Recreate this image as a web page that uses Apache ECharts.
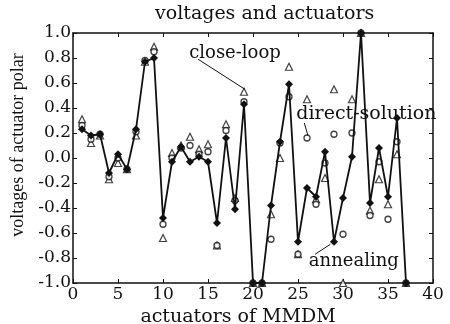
<!DOCTYPE html>
<html>
<head>
<meta charset="utf-8">
<script src="https://cdn.jsdelivr.net/npm/echarts@6/dist/echarts.min.js"></script>
<style>
html,body{margin:0;padding:0;background:#fff;}
#c{width:450px;height:324px;}
</style>
</head>
<body>
<div id="c"></div>
<script>
// actuator indices
const actuators = [1,2,3,4,5,6,7,8,9,10,11,12,13,14,15,16,17,18,19,20,21,22,23,24,25,26,27,28,29,30,31,32,33,34,35,36,37];
// annealing (line with filled diamonds)
const annealing = [0.23,0.18,0.19,-0.12,0.03,-0.09,0.23,0.77,0.80,-0.48,-0.03,0.09,-0.03,0.01,-0.03,-0.52,0.16,-0.41,0.43,-1.0,-1.0,-0.38,0.13,0.59,-0.67,-0.24,-0.31,0.05,-0.67,-0.32,0.01,1.0,-0.36,0.08,-0.31,0.32,-1.0];
// close-loop (open triangles)
const closeLoop = [0.31,0.12,0.18,-0.17,-0.04,-0.09,0.18,0.77,0.89,-0.64,0.04,0.10,0.17,0.07,0.11,-0.70,0.27,-0.32,0.53,-1.0,-1.0,-0.45,0.00,0.73,-0.77,0.47,-0.33,-0.16,0.55,-1.0,0.47,1.0,-0.42,-0.17,-0.37,0.03,-1.0];
// direct-solution (open circles)
const directSolution = [0.26,0.15,0.19,-0.15,0.00,-0.09,0.21,0.78,0.85,-0.53,0.00,0.08,0.10,0.03,0.05,-0.70,0.22,-0.34,0.45,-1.0,-1.0,-0.65,0.12,0.49,-0.77,0.16,-0.37,-0.04,0.19,-0.61,0.20,1.0,-0.46,-0.03,-0.49,0.13,-1.0];
const yTicks = ['-1.0','-0.8','-0.6','-0.4','-0.2','0.0','0.2','0.4','0.6','0.8','1.0'];
const xTicks = ['0','5','10','15','20','25','30','35','40'];
// annotations: [text, textX, textY, lineFromX, lineFromY, lineToX, lineToY]
const annotations = [
  ['close-loop', 18.0, 0.84, 13.9, 0.79, 19.1, 0.55],
  ['direct-solution', 32.6, 0.35, 25.7, 0.28, 26.1, 0.18],
  ['annealing', 31.2, -0.83, 26.9, -0.77, 28.6, -0.69]
];
const annotationFontSize = {'close-loop':18,'direct-solution':19,'annealing':18};

const WIDE = '"DejaVu Serif", "Liberation Serif", serif';
const NARROW = '"Liberation Serif", "DejaVu Serif", serif';
const ink = '#111';
const pair = arr => actuators.map((a,i)=>[a, arr[i]]);

const chart = echarts.init(document.getElementById('c'), null, {renderer:'canvas'});
const axisCommon = {
  type:'value',
  axisLine:{show:true,onZero:false,lineStyle:{color:ink,width:1.5}},
  axisTick:{show:true,inside:true,length:4,lineStyle:{color:ink,width:1}},
  splitLine:{show:false}
};
chart.setOption({
  animation:false,
  backgroundColor:'#fff',
  title:{text:'voltages and actuators',left:150,top:0,
    textStyle:{fontFamily:WIDE,fontSize:19,fontWeight:'normal',color:ink}},
  grid:{left:73,right:17,top:33,bottom:41,containLabel:false,outerBoundsMode:'none'},
  xAxis:[
    Object.assign({},axisCommon,{min:0,max:40,interval:5,position:'bottom',
      name:'actuators of MMDM',nameLocation:'middle',nameGap:20,
      nameTextStyle:{fontFamily:WIDE,fontSize:19,color:ink,padding:[0,30,0,0]},
      axisLabel:{fontFamily:WIDE,fontSize:17,color:ink,margin:3,
        formatter:(v)=>xTicks[Math.round(v/5)]}}),
    Object.assign({},axisCommon,{min:0,max:40,interval:5,position:'top',axisLabel:{show:false}})
  ],
  yAxis:[
    Object.assign({},axisCommon,{min:-1,max:1,interval:0.2,position:'left',
      name:'voltages of actuator polar',nameLocation:'middle',nameGap:44,
      nameTextStyle:{fontFamily:NARROW,fontSize:18,color:ink,padding:[0,0,0,26]},
      axisLabel:{fontFamily:WIDE,fontSize:17,color:ink,margin:2,
        formatter:(v)=>yTicks[Math.round((v+1)/0.2)]}}),
    Object.assign({},axisCommon,{min:-1,max:1,interval:0.2,position:'right',axisLabel:{show:false}})
  ],
  series:[
    {name:'close-loop',type:'scatter',data:pair(closeLoop),symbol:'triangle',symbolSize:7,
      itemStyle:{color:'#fff',borderColor:ink,borderWidth:1.2},z:3},
    {name:'direct-solution',type:'scatter',data:pair(directSolution),symbol:'circle',symbolSize:6,
      itemStyle:{color:'#fff',borderColor:ink,borderWidth:1.3},z:3},
    {name:'annealing',type:'line',data:pair(annealing),symbol:'diamond',symbolSize:8,
      showSymbol:true,lineStyle:{color:ink,width:1.8},itemStyle:{color:ink,borderWidth:0},z:4}
  ]
});

const g = [];
annotations.forEach(a=>{
  const t = chart.convertToPixel({xAxisIndex:0,yAxisIndex:0},[a[1],a[2]]);
  const p1 = chart.convertToPixel({xAxisIndex:0,yAxisIndex:0},[a[3],a[4]]);
  const p2 = chart.convertToPixel({xAxisIndex:0,yAxisIndex:0},[a[5],a[6]]);
  g.push({type:'text',x:t[0],y:t[1],z:10,
    style:{text:a[0],font:annotationFontSize[a[0]]+'px '+WIDE,fill:ink,align:'center',verticalAlign:'middle'}});
  g.push({type:'line',z:10,shape:{x1:p1[0],y1:p1[1],x2:p2[0],y2:p2[1]},
    style:{stroke:ink,lineWidth:1}});
});
chart.setOption({graphic:g});
</script>
</body>
</html>
